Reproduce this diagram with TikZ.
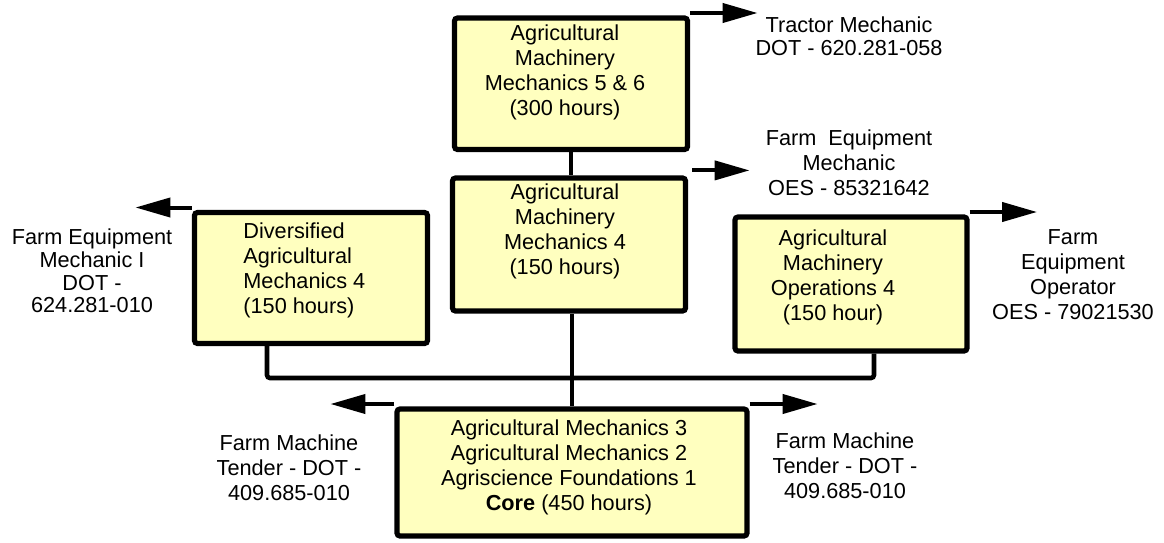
\documentclass[tikz,border=0pt]{standalone}
\usepackage{fontspec}
\setmainfont{Liberation Sans}
\usetikzlibrary{arrows.meta}
\definecolor{boxyellow}{RGB}{255,255,191}

\begin{document}
\begin{tikzpicture}[x=0.5pt, y=-0.5pt,
    box/.style={draw, line width=2.6pt, fill=boxyellow, rounded corners=1.5pt, inner sep=0pt},
    txt/.style={align=center, inner sep=0pt, font=\fontsize{10.85pt}{12.5pt}\selectfont},
    link/.style={line width=2.3pt, rounded corners=1.5pt},
    outarrow/.style={line width=2pt, -{Triangle[length=17.5pt,width=9.5pt]}}]
    \useasboundingbox (0,0) rectangle (1164,542);

    % Course boxes
    \node[box, minimum width=116.5pt, minimum height=65.75pt] (top) at (571,83.75) {};
    \node[box, minimum width=116.5pt, minimum height=66.5pt] (mid) at (569,244.5) {};
    \node[box, minimum width=116.5pt, minimum height=65.5pt] (lbox) at (311,278) {};
    \node[box, minimum width=116pt, minimum height=67pt] (rbox) at (851,284) {};
    \node[box, minimum width=175pt, minimum height=63.5pt] (core) at (572,472.5) {};

    % Box texts
    \node[txt] (toptxt) at (565,72.5) {Agricultural\\Machinery\\Mechanics 5 \& 6\\(300 hours)};
    \node[txt] (midtxt) at (565,231) {Agricultural\\Machinery\\Mechanics 4\\(150 hours)};
    \node[txt, align=left, anchor=west] (lboxtxt) at (243,270.5) {Diversified\\Agricultural\\Mechanics 4\\(150 hours)};
    \node[txt] (rboxtxt) at (833,277.5) {Agricultural\\Machinery\\Operations 4\\(150 hour)};
    \node[txt] (coretxt) at (569,467) {Agricultural Mechanics 3\\Agricultural Mechanics 2\\Agriscience Foundations 1\\\textbf{Core} (450 hours)};

    % Links between courses
    \coordinate (busL) at (267,378);
    \coordinate (busR) at (874,378);
    \draw[link] (top.south) -- (top.south |- mid.north);
    \draw[link] (mid.south -| core.north) -- (core.north);
    \draw[link] (lbox.south -| busL) -- (busL) -- (busR) -- (rbox.south -| busR);

    % Job outlets
    \coordinate (topout) at ([xshift=33.75pt, yshift=1.2pt]top.north east);
    \coordinate (midout) at ([xshift=30.75pt, yshift=2.5pt]mid.north east);
    \coordinate (lout) at ([xshift=-28.25pt, yshift=1.2pt]lbox.north west);
    \coordinate (rout) at ([xshift=33.75pt, yshift=1.2pt]rbox.north east);
    \coordinate (coreLout) at ([xshift=-32pt, yshift=1.2pt]core.north west);
    \coordinate (coreRout) at ([xshift=34pt, yshift=1.2pt]core.north east);
    \draw[outarrow] (top.north east |- topout) -- (topout);
    \draw[outarrow] ([xshift=2pt]mid.north east |- midout) -- (midout);
    \draw[outarrow] (lbox.north west |- lout) -- (lout);
    \draw[outarrow] (rbox.north east |- rout) -- (rout);
    \draw[outarrow] (core.north west |- coreLout) -- (coreLout);
    \draw[outarrow] (core.north east |- coreRout) -- (coreRout);

    % Job titles
    \node[txt, font=\fontsize{10.85pt}{11.5pt}\selectfont] (tractor) at (849,36.5) {Tractor Mechanic\\DOT - 620.281-058};
    \node[txt] (femech) at (849,163) {Farm~ Equipment\\Mechanic\\OES - 85321642};
    \node[txt, font=\fontsize{10.85pt}{11.3pt}\selectfont] (femechI) at (92,271) {Farm Equipment\\Mechanic I\\DOT -\\624.281-010};
    \node[txt] (feoper) at (1073,275) {Farm\\Equipment\\Operator\\OES - 79021530};
    \node[txt] (tenderL) at (289,467.5) {Farm Machine\\Tender - DOT -\\409.685-010};
    \node[txt] (tenderR) at (845,466) {Farm Machine\\Tender - DOT -\\409.685-010};
\end{tikzpicture}
\end{document}
